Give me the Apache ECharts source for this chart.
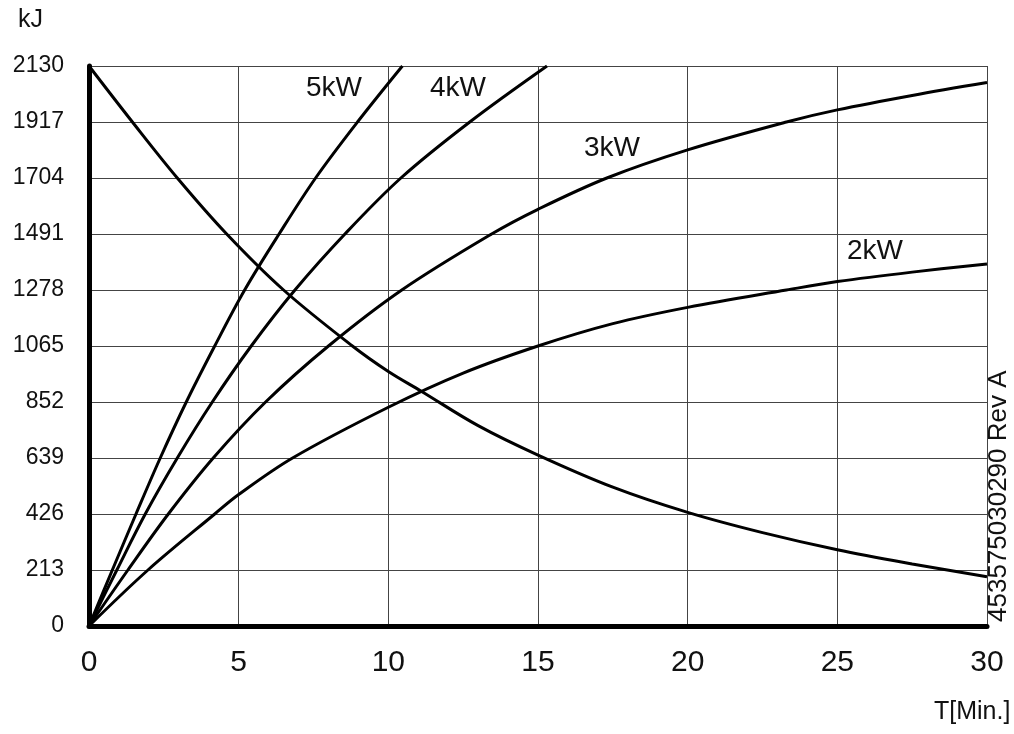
<!DOCTYPE html>
<html>
<head>
<meta charset="utf-8">
<title>kJ / T[Min.]</title>
<script src="https://cdn.jsdelivr.net/npm/echarts@6/dist/echarts.min.js"></script>
<style>
  html, body { margin: 0; padding: 0; background: #fff; }
  #chart { width: 1014px; height: 734px; }
</style>
</head>
<body>
<div id="chart"></div>
<script>
  // y ticks in kJ, x ticks in minutes
  var yTicks = [0, 213, 426, 639, 852, 1065, 1278, 1491, 1704, 1917, 2130];
  var xTicks = [0, 5, 10, 15, 20, 25, 30];

  // curves: [minutes, kJ]
  var kw5 = [[0, 0], [0.78, 213], [1.57, 426], [2.38, 639], [3.25, 852], [4.2, 1065],
    [5.2, 1278], [6.35, 1491], [7.57, 1704], [8.97, 1917], [10.47, 2130]];
  var kw4 = [[0, 0], [0.93, 213], [1.88, 426], [2.95, 639], [4.12, 852], [5.42, 1065],
    [6.88, 1278], [8.55, 1491], [10.42, 1704], [12.72, 1917], [15.3, 2130]];
  var kw3 = [[0, 0], [1.3, 213], [2.65, 426], [4.15, 639], [5.9, 852], [8.0, 1065],
    [10.45, 1278], [13.45, 1491], [15, 1585], [17.3, 1704], [20, 1811], [23.3, 1917],
    [25, 1963], [27.5, 2018], [30, 2067]];
  var kw2 = [[0, 0], [1.97, 213], [4.2, 426], [5, 500], [6.8, 639], [10, 832],
    [12.5, 962], [15, 1065], [17.5, 1150], [20, 1212], [23.3, 1278], [25, 1310],
    [27.5, 1346], [30, 1377]];
  var falling = [[0, 2130], [1.45, 1917], [2.95, 1704], [4.6, 1491], [6.5, 1278],
    [8.8, 1065], [10, 968], [11.1, 893], [13, 762], [15, 650], [17.5, 528],
    [20, 432], [22.5, 355], [25, 290], [27.5, 236], [30, 187]];

  var curveLabels = ['5kW', '4kW', '3kW', '2kW'];
  var docNumber = '453575030290 Rev A';

  var myChart = echarts.init(document.getElementById('chart'), null, { renderer: 'canvas' });

  function curve(name, data) {
    return {
      name: name,
      type: 'line',
      data: data,
      smooth: 0.35,
      symbol: 'none',
      clip: true,
      lineStyle: { color: '#000', width: 3 },
      z: 3
    };
  }

  var font = 'Liberation Sans';

  function label(text, x, y, size) {
    return {
      type: 'text', x: x, y: y,
      style: { text: text, fontSize: size, fontFamily: font, fill: '#111' }
    };
  }

  var option = {
    backgroundColor: '#fff',
    animation: false,
    grid: { left: 89, right: 27, top: 66, bottom: 108 },
    xAxis: {
      type: 'value',
      min: xTicks[0],
      max: xTicks[xTicks.length - 1],
      interval: 5,
      axisLine: { show: true, onZero: false, lineStyle: { color: '#000', width: 5 } },
      axisTick: { show: false },
      axisLabel: { color: '#111', fontSize: 30, fontFamily: font, margin: 22 },
      splitLine: { show: true, lineStyle: { color: '#444', width: 1 } }
    },
    yAxis: {
      type: 'value',
      min: yTicks[0],
      max: yTicks[yTicks.length - 1],
      interval: 213,
      axisLine: { show: true, onZero: false, lineStyle: { color: '#000', width: 5 } },
      axisTick: { show: false },
      axisLabel: {
        color: '#111', fontSize: 23, fontFamily: font, margin: 25,
        formatter: function (v) { return String(v); }
      },
      splitLine: { show: true, lineStyle: { color: '#444', width: 1 } }
    },
    series: [
      curve(curveLabels[0], kw5),
      curve(curveLabels[1], kw4),
      curve(curveLabels[2], kw3),
      curve(curveLabels[3], kw2),
      curve('falling', falling)
    ],
    graphic: [
      label('kJ', 18, 8, 25),
      label('T[Min.]', 934, 700, 25),
      label(curveLabels[0], 306, 74, 28),
      label(curveLabels[1], 430, 74, 28),
      label(curveLabels[2], 584, 134, 28),
      label(curveLabels[3], 847, 237, 28),
      {
        type: 'text', x: 986, y: 622, rotation: Math.PI / 2,
        style: {
          text: docNumber, fontSize: 26, fontFamily: font, fill: '#111',
          align: 'left', verticalAlign: 'top'
        }
      }
    ]
  };

  myChart.setOption(option);
</script>
</body>
</html>
